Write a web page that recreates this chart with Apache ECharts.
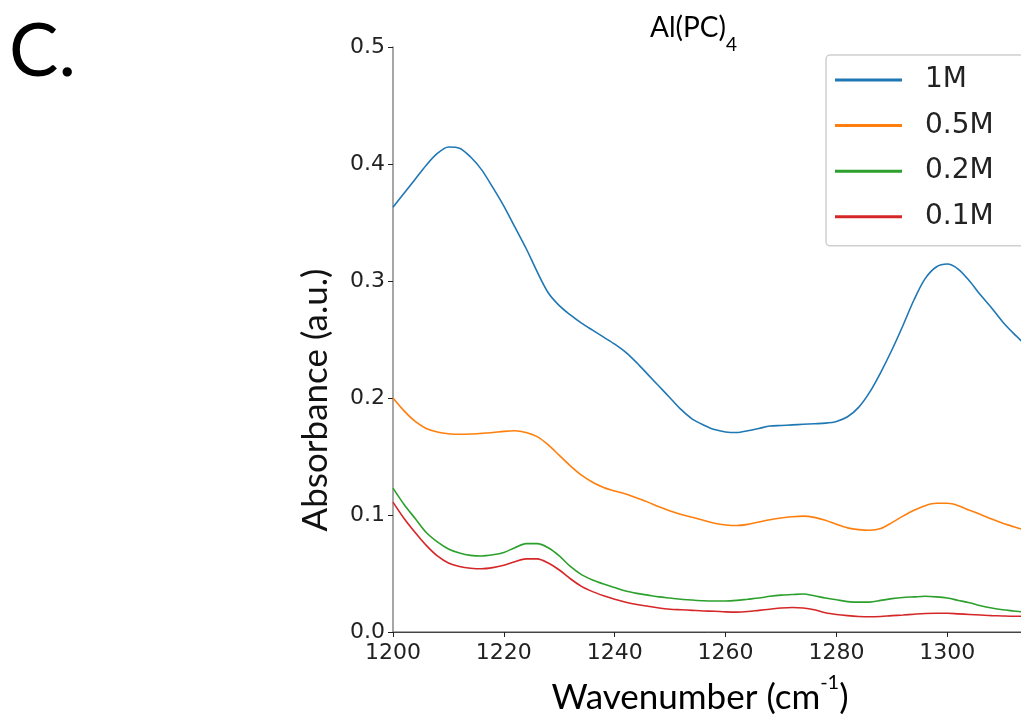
<!DOCTYPE html>
<html>
<head>
<meta charset="utf-8">
<script src="https://cdn.jsdelivr.net/npm/echarts@6/dist/echarts.min.js"></script>
<style>html,body{margin:0;padding:0;background:#fff;}#c{width:1021px;height:717px;}</style>
</head>
<body>
<div id="c"></div>
<script>
const wavenumbers = [1200,1202,1204,1206,1208,1210,1212,1214,1216,1218,1220,1222,1224,1226,1228,1230,1232,1234,1236,1238,1240,1242,1244,1246,1248,1250,1252,1254,1256,1258,1260,1262,1264,1266,1268,1270,1272,1274,1276,1278,1280,1282,1284,1286,1288,1290,1292,1294,1296,1298,1300,1302,1304,1306,1308,1310,1312,1314];
const seriesNames = ['1M','0.5M','0.2M','0.1M'];
const abs1M  = [0.363,0.375,0.387,0.399,0.409,0.4145,0.4135,0.406,0.395,0.380,0.364,0.346,0.328,0.308,0.290,0.279,0.271,0.264,0.258,0.252,0.246,0.239,0.230,0.220,0.210,0.200,0.190,0.182,0.177,0.173,0.171,0.1705,0.172,0.174,0.176,0.1765,0.177,0.1775,0.178,0.1785,0.180,0.184,0.192,0.205,0.222,0.241,0.262,0.284,0.302,0.312,0.3145,0.310,0.300,0.288,0.277,0.265,0.255,0.246];
const abs05M = [0.200,0.189,0.180,0.174,0.171,0.1695,0.169,0.1692,0.1698,0.1705,0.1715,0.172,0.1705,0.167,0.160,0.151,0.142,0.134,0.128,0.1235,0.1205,0.118,0.1145,0.111,0.107,0.1035,0.1005,0.098,0.0955,0.093,0.0915,0.091,0.092,0.094,0.096,0.0975,0.0985,0.099,0.098,0.0955,0.092,0.089,0.0875,0.087,0.0885,0.0935,0.099,0.104,0.108,0.110,0.110,0.108,0.104,0.1005,0.0965,0.093,0.090,0.087];
const abs02M = [0.123,0.109,0.097,0.085,0.077,0.071,0.0675,0.0655,0.065,0.066,0.068,0.072,0.0755,0.0755,0.072,0.065,0.056,0.049,0.0445,0.041,0.038,0.035,0.033,0.0315,0.030,0.029,0.028,0.0273,0.0267,0.0265,0.0265,0.027,0.028,0.029,0.0305,0.0315,0.032,0.0325,0.031,0.029,0.0275,0.026,0.0255,0.0255,0.027,0.0285,0.0295,0.030,0.0305,0.030,0.029,0.027,0.025,0.0225,0.0205,0.019,0.018,0.017];
const abs01M = [0.111,0.097,0.085,0.074,0.065,0.059,0.056,0.0545,0.054,0.055,0.057,0.060,0.0625,0.0625,0.059,0.053,0.0455,0.039,0.0345,0.031,0.028,0.0255,0.0235,0.022,0.0205,0.0195,0.019,0.0185,0.018,0.0177,0.0172,0.017,0.0175,0.0185,0.0195,0.0205,0.021,0.0205,0.019,0.0165,0.015,0.014,0.0133,0.013,0.0133,0.014,0.0145,0.0152,0.0158,0.016,0.016,0.0155,0.015,0.0145,0.014,0.0137,0.0135,0.0135];
const yTickLabels = ['0.0','0.1','0.2','0.3','0.4','0.5'];
const colors = ['#1f77b4','#ff7f0e','#2ca02c','#d62728'];
const allValues = [abs1M, abs05M, abs02M, abs01M];

const chart = echarts.init(document.getElementById('c'), null, {renderer:'canvas'});
const tickFont = 'DejaVu Sans';
const labelFont = 'Lato';

const series = seriesNames.map((n,i)=>({
  name: n, type: 'line', symbol: 'none', smooth: 0.3,
  lineStyle: {color: colors[i], width: 1.6}, itemStyle:{color: colors[i]},
  data: wavenumbers.map((w,j)=>[w, allValues[i][j]]),
  clip: true, z: 3
}));

chart.setOption({
  animation: false,
  backgroundColor: '#fff',
  grid: {left: 393, top: 47, bottom: 85, width: 643, containLabel: false, outerBoundsMode: 'none'},
  xAxis: [{
    type: 'value', min: 1200, max: 1316, interval: 20,
    axisLine: {show: true, onZero: false, lineStyle: {color: '#888', width: 1.5}},
    axisTick: {show: true, length: 5, lineStyle: {color: '#222', width: 1}},
    axisLabel: {fontFamily: tickFont, fontSize: 22, color: '#222', margin: 10,
      formatter: v => (v % 20 === 0 ? String(v) : '')},
    splitLine: {show: false}
  }, {
    type: 'value', position: 'top', min: 1200, max: 1316,
    axisLine: {show: true, lineStyle: {color: '#444', width: 1}},
    axisTick: {show: false}, axisLabel: {show: false}, splitLine: {show: false}
  }],
  yAxis: {
    type: 'value', min: 0, max: 0.5, interval: 0.1,
    axisLine: {show: true, lineStyle: {color: '#888', width: 1.5}},
    axisTick: {show: true, length: 5, lineStyle: {color: '#222', width: 1}},
    axisLabel: {fontFamily: tickFont, fontSize: 22, color: '#222', margin: 8,
      formatter: v => yTickLabels[Math.round(v * 10)]},
    splitLine: {show: false}
  },
  legend: {
    left: 826, top: 55, orient: 'vertical',
    data: seriesNames,
    icon: 'rect', itemWidth: 67, itemHeight: 3, itemGap: 13.6,
    padding: [9, 80, 13, 9],
    backgroundColor: '#fff', borderColor: '#d0d0d0', borderWidth: 1.5, borderRadius: 4,
    textStyle: {fontFamily: tickFont, fontSize: 28, color: '#222', lineHeight: 32, padding: [0,0,0,18]}
  },
  graphic: [
    {type: 'text', left: 9, top: 15, style: {text: 'C.', font: '74px Lato', fill: '#000'}},
    {type: 'text', left: 650, top: 14, style: {
      text: '{a|Al(PC)}{b|4}',
      rich: {a: {fontFamily: labelFont, fontSize: 28, color: '#111', lineHeight: 34, verticalAlign: 'top'},
             b: {fontFamily: labelFont, fontSize: 19, color: '#111', lineHeight: 34, verticalAlign: 'bottom', padding:[0,0,-6,0]}}
    }},
    {type: 'text', x: 316, y: 400, rotation: Math.PI/2, style: {
      text: 'Absorbance (a.u.)', fontFamily: labelFont, fontSize: 35, fill: '#111',
      align: 'center', verticalAlign: 'middle'}},
    {type: 'text', x: 700, y: 693, style: {
      text: '{a|Wavenumber (cm}{s|-1}{a|)}', align: 'center', verticalAlign: 'middle',
      rich: {a: {fontFamily: labelFont, fontSize: 35, color: '#111', lineHeight: 44, verticalAlign: 'bottom'},
             s: {fontFamily: labelFont, fontSize: 20, color: '#111', lineHeight: 44, verticalAlign: 'top', padding:[2,0,0,0]}}
    }}
  ],
  series: series
});
</script>
</body>
</html>
